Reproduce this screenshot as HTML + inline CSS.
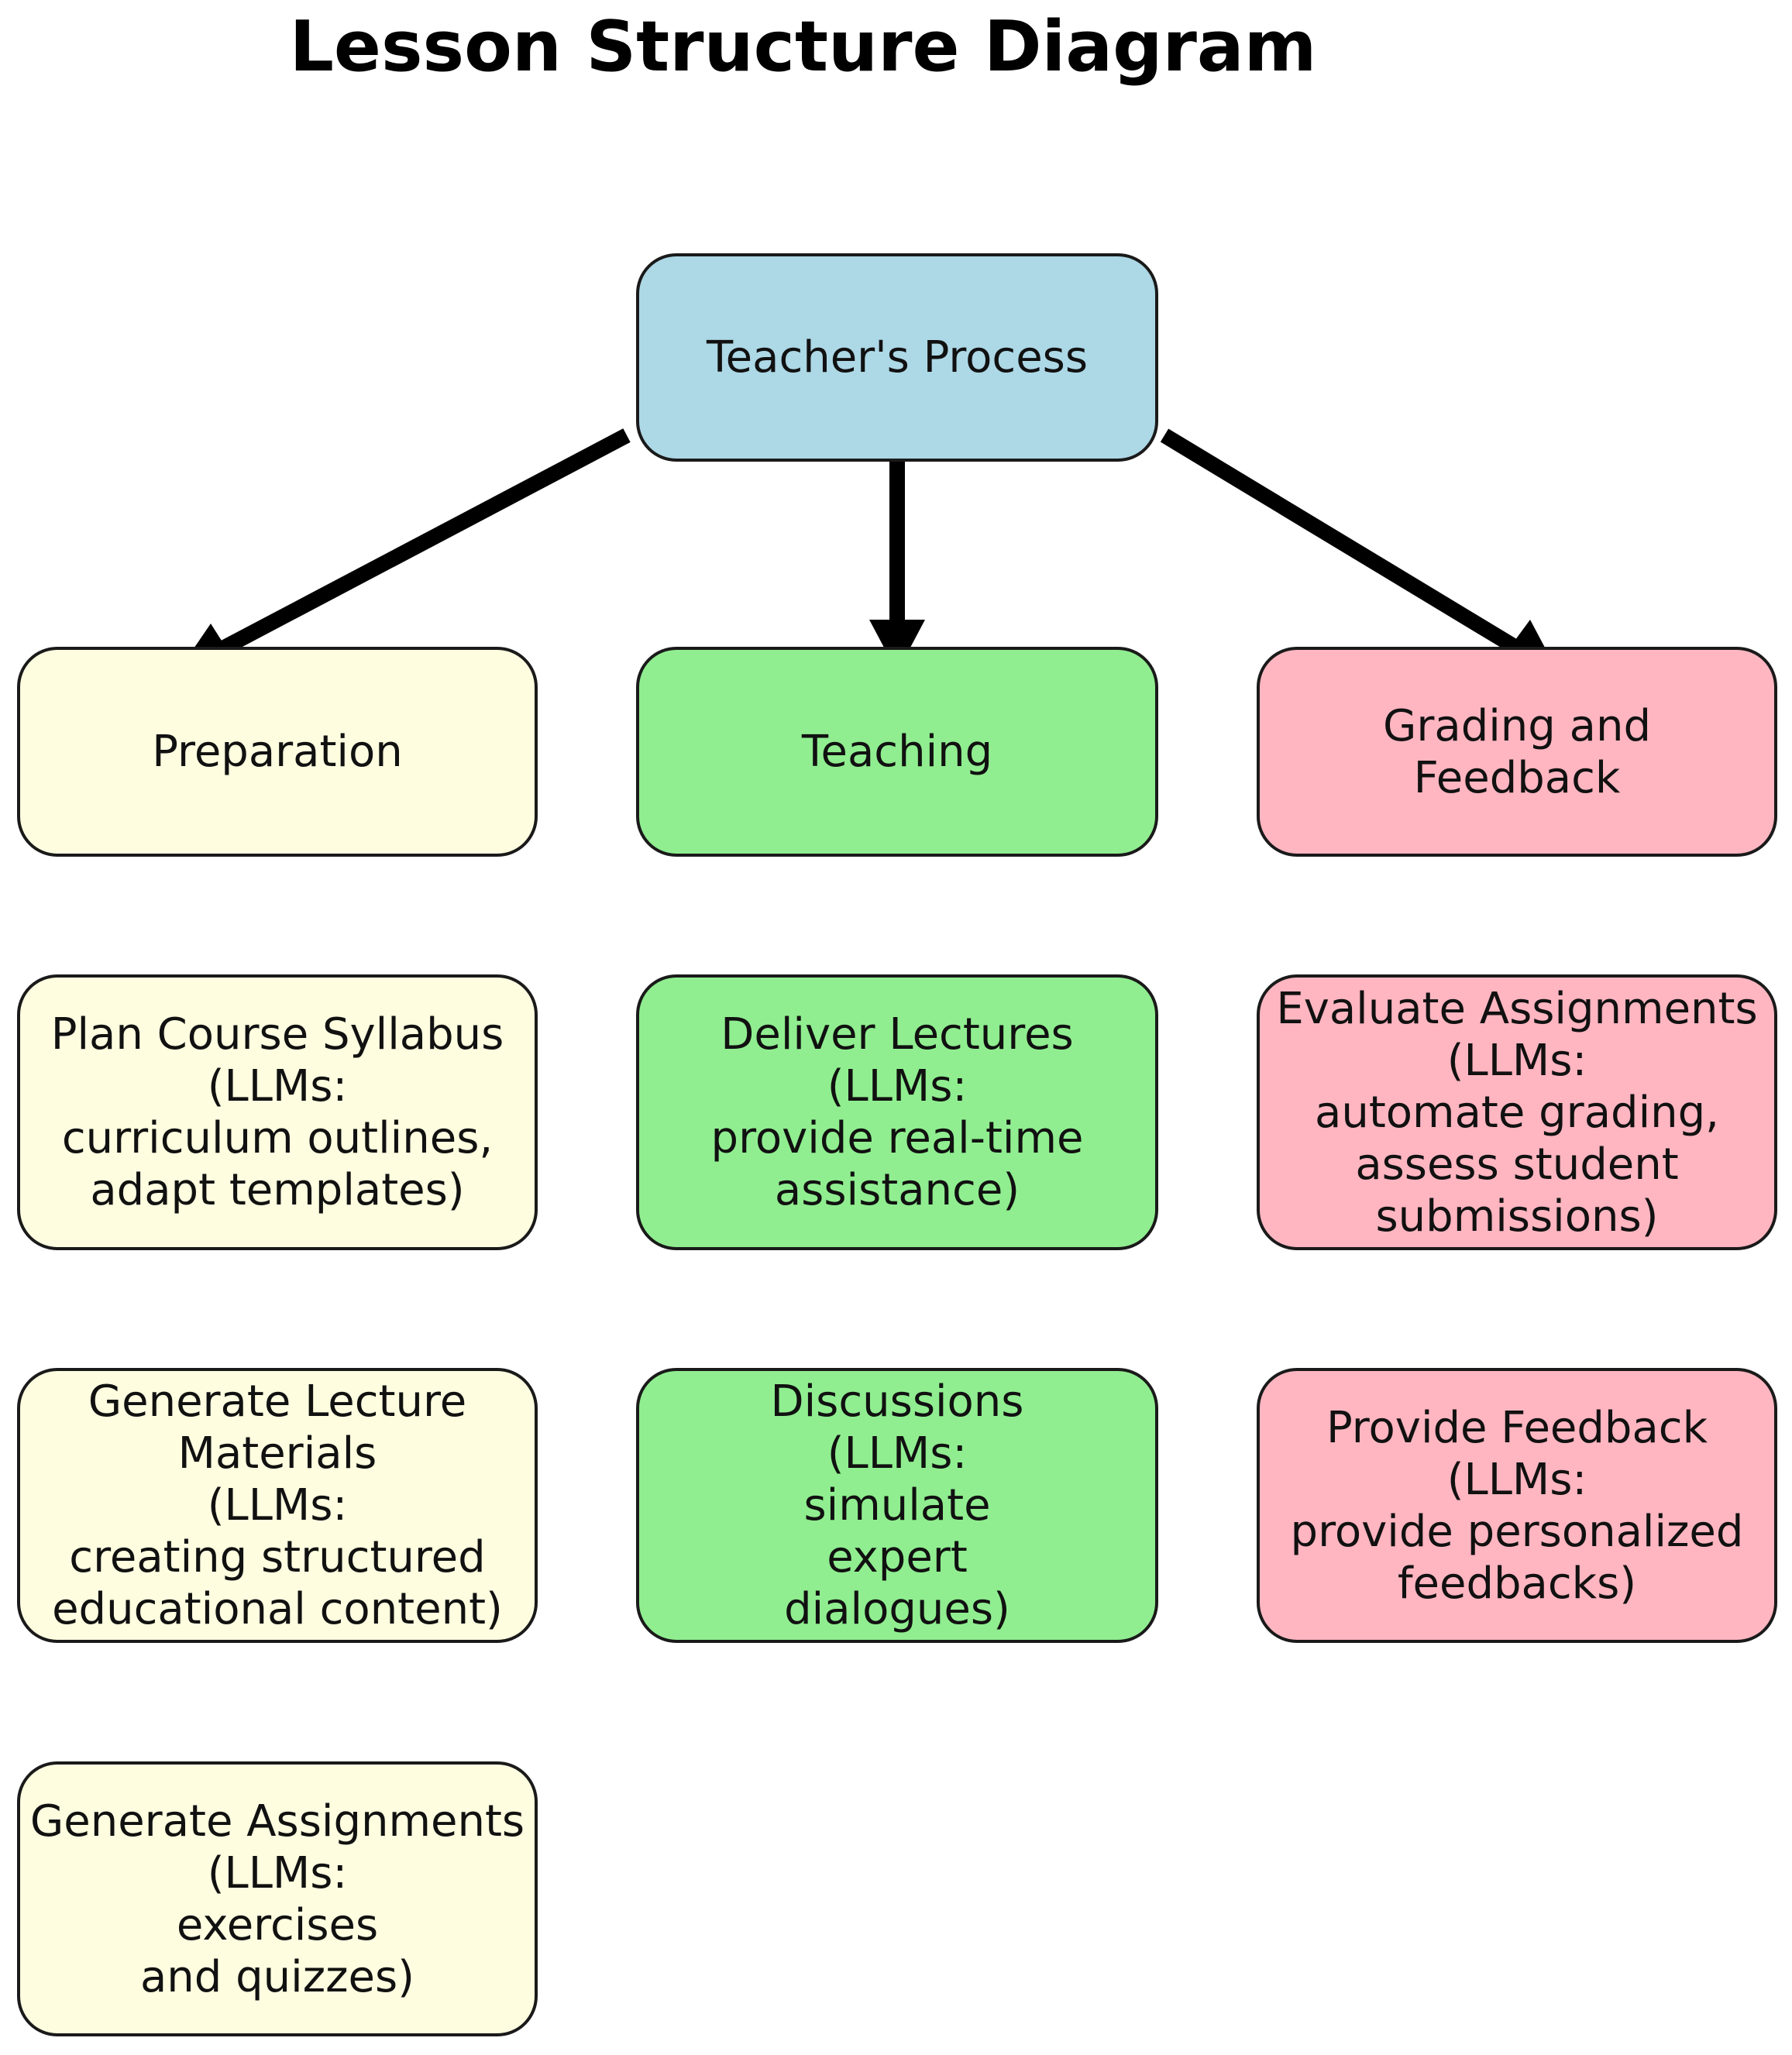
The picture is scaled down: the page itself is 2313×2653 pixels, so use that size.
<!DOCTYPE html>
<html><head><meta charset="utf-8"><style>
html,body{margin:0;padding:0;background:#fff;}
body{width:2313px;height:2653px;position:relative;overflow:hidden;font-family:"DejaVu Sans","Liberation Sans",sans-serif;}
.t{position:absolute;left:0;width:2313px;top:8px;text-align:center;font-weight:bold;font-size:90px;color:#000;padding-right:240px;box-sizing:border-box;}
.b{position:absolute;box-sizing:border-box;border:4px solid #1a1a1a;border-radius:52px;display:flex;align-items:center;justify-content:center;text-align:center;font-size:56px;line-height:67px;color:#111;white-space:pre;}
.y{background:#fefde0}.g{background:#90ee90}.p{background:#ffb6c1}.bl{background:#add8e6}
</style></head><body>
<div class="t">Lesson Structure Diagram</div>
<svg width="2313" height="2653" style="position:absolute;left:0;top:0">
<g stroke="#000" stroke-width="20" fill="none">
<line x1="809" y1="562" x2="282" y2="840"/>
<line x1="1158" y1="562" x2="1158" y2="805"/>
<line x1="1503" y1="562" x2="1960" y2="838"/>
</g>
<polygon points="229,868 272,805 312,868" fill="#000"/>
<polygon points="1158,868 1122,800 1194,800" fill="#000"/>
<polygon points="2011,868 1925,868 1975,800" fill="#000"/>
</svg>
<div class="b bl" style="left:821px;top:327px;width:674px;height:269px">Teacher's Process</div>
<div class="b y" style="left:22px;top:835px;width:672px;height:271px">Preparation</div>
<div class="b g" style="left:821px;top:835px;width:674px;height:271px">Teaching</div>
<div class="b p" style="left:1622px;top:835px;width:672px;height:271px">Grading and
Feedback</div>
<div class="b y" style="left:22px;top:1258px;width:672px;height:356px">Plan Course Syllabus
(LLMs:
curriculum outlines,
adapt templates)</div>
<div class="b g" style="left:821px;top:1258px;width:674px;height:356px">Deliver Lectures
(LLMs:
provide real-time
assistance)</div>
<div class="b p" style="left:1622px;top:1258px;width:672px;height:356px">Evaluate Assignments
(LLMs:
automate grading,
assess student
submissions)</div>
<div class="b y" style="left:22px;top:1766px;width:672px;height:355px">Generate Lecture
Materials
(LLMs:
creating structured
educational content)</div>
<div class="b g" style="left:821px;top:1766px;width:674px;height:355px">Discussions
(LLMs:
simulate
expert
dialogues)</div>
<div class="b p" style="left:1622px;top:1766px;width:672px;height:355px">Provide Feedback
(LLMs:
provide personalized
feedbacks)</div>
<div class="b y" style="left:22px;top:2274px;width:672px;height:355px">Generate Assignments
(LLMs:
exercises
and quizzes)</div>
</body></html>
